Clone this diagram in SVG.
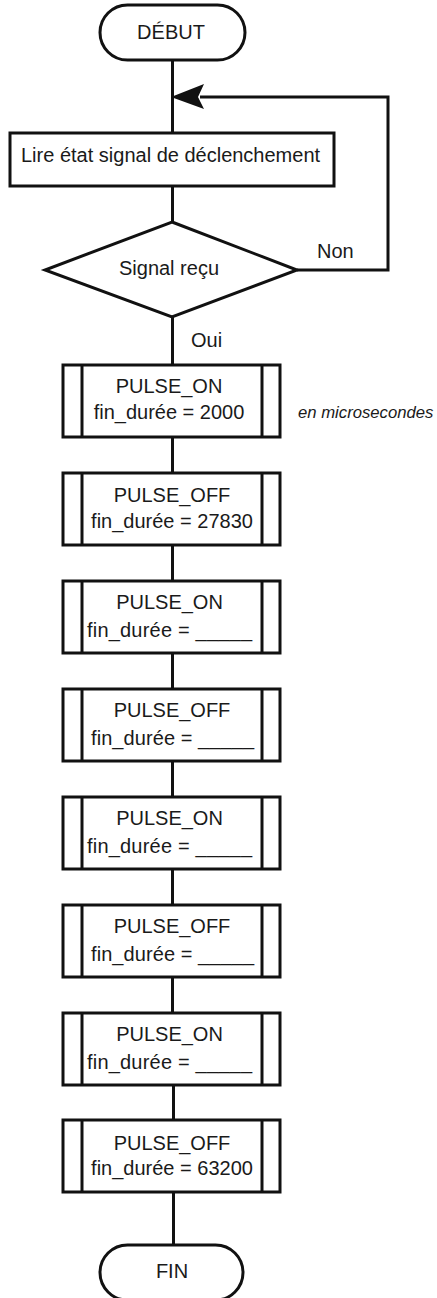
<svg xmlns="http://www.w3.org/2000/svg" width="437" height="1298" viewBox="0 0 437 1298">
<style>
.s{fill:#fff;stroke:#111;stroke-width:3}
.l{fill:none;stroke:#111;stroke-width:3}
.t{font-family:"Liberation Sans",Arial,sans-serif;font-size:20px;fill:#1a1a1a}
.c{text-anchor:middle}
.i{font-style:italic;font-size:16.7px}
</style>
<defs>
<g id="sub">
<rect class="s" x="63" y="0" width="217" height="72"/>
<line class="l" x1="82" y1="0" x2="82" y2="72"/>
<line class="l" x1="262" y1="0" x2="262" y2="72"/>
</g>
</defs>
<g id="connectors">
<polyline class="l" points="172.5,60 172.5,133"/>
<polyline class="l" points="172.5,186 172.5,222"/>
<polyline class="l" points="297,270 388,270 388,97 200,97"/>
<polygon fill="#111" points="171,97 204,84 198,97 204,109"/>
<polyline class="l" points="172.5,317 172.5,365"/>
<polyline class="l" points="172.5,437 172.5,473"/>
<polyline class="l" points="172.5,545 172.5,581"/>
<polyline class="l" points="172.5,653 172.5,689"/>
<polyline class="l" points="172.5,761 172.5,797"/>
<polyline class="l" points="172.5,869 172.5,905"/>
<polyline class="l" points="172.5,977 172.5,1013"/>
<polyline class="l" points="173.5,1085 173.5,1120"/>
<polyline class="l" points="173.5,1192 173.5,1245"/>
<text class="t" x="317" y="258">Non</text>
<text class="t" x="191" y="347">Oui</text>
</g>
<g id="debut">
<rect class="s" x="100" y="5" width="145" height="55" rx="27.5"/>
<text class="t c" x="171" y="39">DÉBUT</text>
</g>
<g id="lire">
<rect class="s" x="10" y="133" width="324" height="53"/>
<text class="t" x="21" y="162">Lire état signal de déclenchement</text>
</g>
<g id="signal">
<polygon class="s" points="172,222 297,270 172,317 45,270"/>
<text class="t c" x="169" y="275">Signal reçu</text>
</g>
<g id="box1">
<use href="#sub" y="365"/>
<text class="t c" x="169" y="393">PULSE_ON</text>
<text class="t c" x="169" y="419">fin_durée = 2000</text>
</g>
<text class="t i" x="298" y="418">en microsecondes</text>
<g id="box2">
<use href="#sub" y="473"/>
<text class="t c" x="172" y="502">PULSE_OFF</text>
<text class="t c" x="172" y="528">fin_durée = 27830</text>
</g>
<g id="box3">
<use href="#sub" y="581"/>
<text class="t c" x="169.5" y="609">PULSE_ON</text>
<text class="t" x="87" y="637" textLength="165" lengthAdjust="spacing">fin_durée = _____</text>
</g>
<g id="box4">
<use href="#sub" y="689"/>
<text class="t c" x="172" y="717">PULSE_OFF</text>
<text class="t" x="91" y="745" textLength="163" lengthAdjust="spacing">fin_durée = _____</text>
</g>
<g id="box5">
<use href="#sub" y="797"/>
<text class="t c" x="169.5" y="825">PULSE_ON</text>
<text class="t" x="87" y="853" textLength="165" lengthAdjust="spacing">fin_durée = _____</text>
</g>
<g id="box6">
<use href="#sub" y="905"/>
<text class="t c" x="172" y="933">PULSE_OFF</text>
<text class="t" x="91" y="961" textLength="163" lengthAdjust="spacing">fin_durée = _____</text>
</g>
<g id="box7">
<use href="#sub" y="1013"/>
<text class="t c" x="169.5" y="1041">PULSE_ON</text>
<text class="t" x="87" y="1069" textLength="165" lengthAdjust="spacing">fin_durée = _____</text>
</g>
<g id="box8">
<use href="#sub" y="1120"/>
<text class="t c" x="172" y="1150">PULSE_OFF</text>
<text class="t c" x="172" y="1175">fin_durée = 63200</text>
</g>
<g id="fin">
<rect class="s" x="100" y="1245" width="143" height="55" rx="27.5"/>
<text class="t c" x="172" y="1278">FIN</text>
</g>
</svg>
